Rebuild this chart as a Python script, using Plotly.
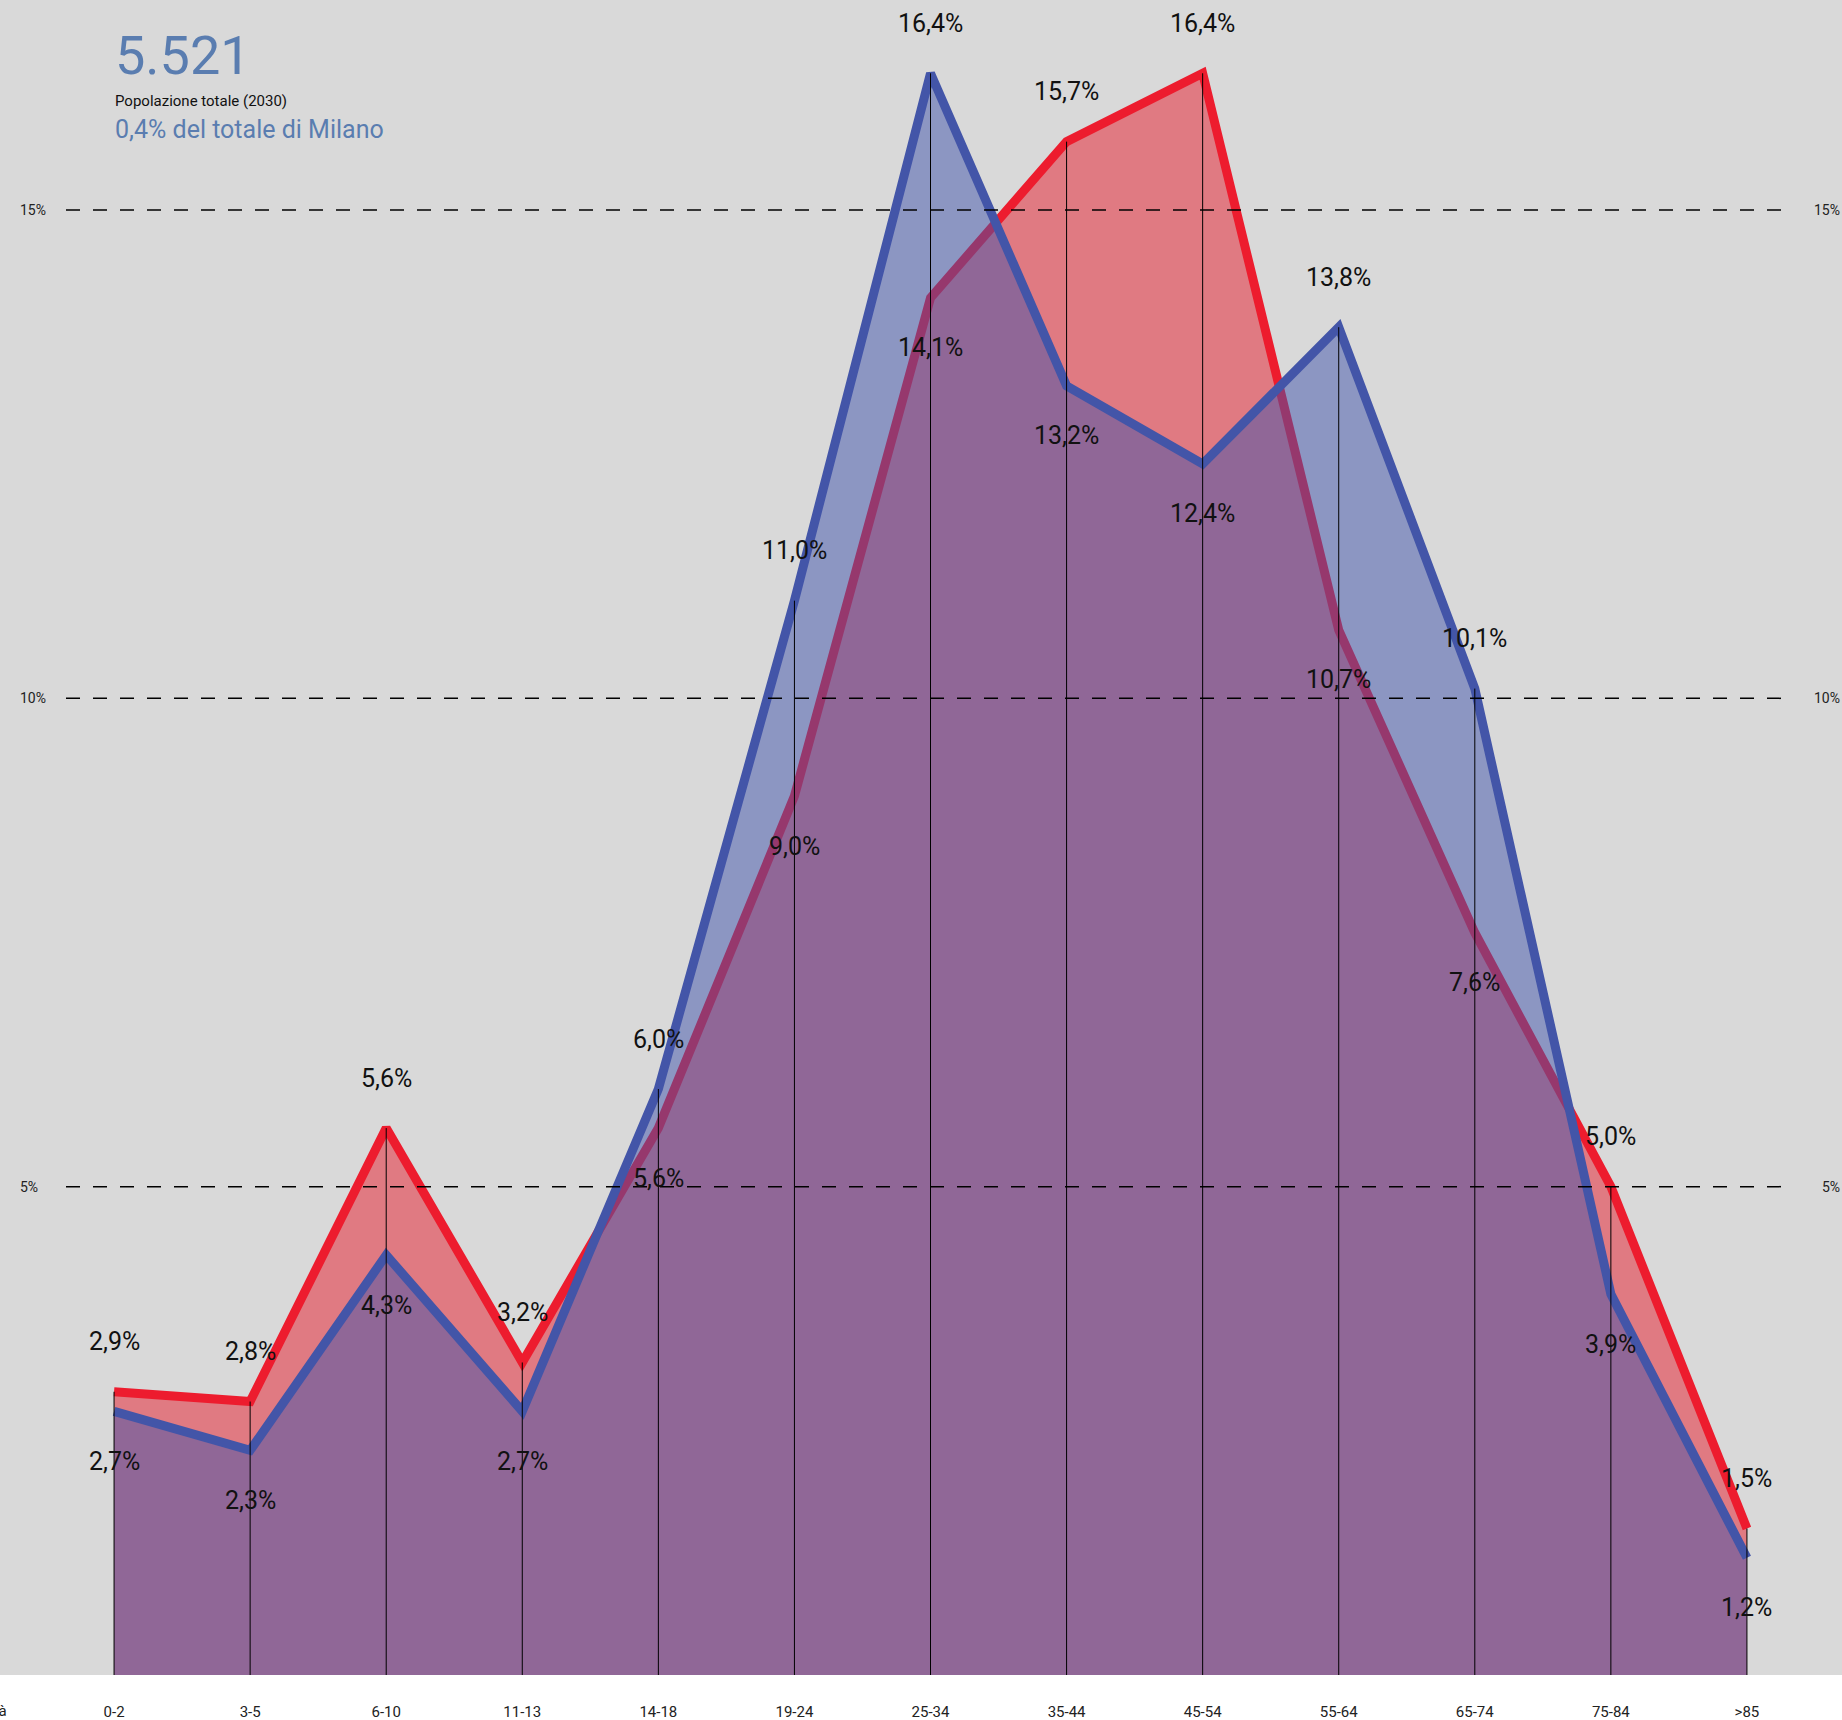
import plotly.graph_objects as go

categories = ["0-2", "3-5", "6-10", "11-13", "14-18", "19-24", "25-34",
              "35-44", "45-54", "55-64", "65-74", "75-84", ">85"]
red_values = [2.9, 2.8, 5.6, 3.2, 5.6, 9.0, 14.1, 15.7, 16.4, 10.7, 7.6, 5.0, 1.5]
blue_values = [2.7, 2.3, 4.3, 2.7, 6.0, 11.0, 16.4, 13.2, 12.4, 13.8, 10.1, 3.9, 1.2]
grid_values = [5, 10, 15]
grid_labels = ["5%", "10%", "15%"]

W, H = 1842, 1720
PLOT_H = 1675
FONT = "Roboto"

x = list(range(len(categories)))

fig = go.Figure()

fig.add_trace(go.Scatter(
    x=x, y=red_values, mode="lines", fill="tozeroy",
    fillcolor="rgba(231,27,43,0.5)",
    line=dict(color="#ED1C2E", width=9), hoverinfo="skip", showlegend=False))
fig.add_trace(go.Scatter(
    x=x, y=blue_values, mode="lines", fill="tozeroy",
    fillcolor="rgba(63,83,171,0.5)",
    line=dict(color="#4355A8", width=9), hoverinfo="skip", showlegend=False))

# vertical guide lines from 0 to max of the two series
vx, vy = [], []
for i, (r, b) in enumerate(zip(red_values, blue_values)):
    vx += [i, i, None]
    vy += [0, max(r, b), None]
fig.add_trace(go.Scatter(x=vx, y=vy, mode="lines",
                         line=dict(color="black", width=1),
                         hoverinfo="skip", showlegend=False))

def fmt(v):
    return f"{v:.1f}".replace(".", ",") + "%"

annotations = []
for i, (r, b) in enumerate(zip(red_values, blue_values)):
    hi_r = r >= b
    for v, up in ((r, hi_r), (b, not hi_r)):
        annotations.append(dict(
            x=i, y=v, xref="x", yref="y", text=fmt(v), showarrow=False,
            yshift=50 if up else -50, xanchor="center", yanchor="middle",
            font=dict(family=FONT, size=25, color="#111")))

shapes = []
for g, lab in zip(grid_values, grid_labels):
    shapes.append(dict(type="line", xref="paper", yref="y",
                       x0=66 / W, x1=1788 / W, y0=g, y1=g, layer="above",
                       line=dict(color="black", width=1.5, dash="14px,13px")))
    annotations.append(dict(x=0, y=g, xref="paper", yref="y", text=lab,
                            showarrow=False, xanchor="left", yanchor="middle",
                            xshift=18, font=dict(family=FONT, size=14, color="#222")))
    annotations.append(dict(x=1, y=g, xref="paper", yref="y", text=lab,
                            showarrow=False, xanchor="right", yanchor="middle",
                            xshift=0, font=dict(family=FONT, size=14, color="#222")))

def py(p):
    return 1 - p / PLOT_H

annotations += [
    dict(x=113 / W, y=py(56), xref="paper", yref="paper", text="5.521",
         showarrow=False, xanchor="left", yanchor="middle",
         font=dict(family=FONT, size=54, color="#5A7DB0")),
    dict(x=113 / W, y=py(101), xref="paper", yref="paper",
         text="Popolazione totale (2030)", showarrow=False,
         xanchor="left", yanchor="middle",
         font=dict(family=FONT, size=15, color="#111")),
    dict(x=113 / W, y=py(129), xref="paper", yref="paper",
         text="0,4% del totale di Milano", showarrow=False,
         xanchor="left", yanchor="middle",
         font=dict(family=FONT, size=25, color="#5A7DB0")),
    dict(x=0, y=0, xref="paper", yref="paper", text="Età", showarrow=False,
         xanchor="right", yanchor="middle", xshift=9, yshift=-36,
         font=dict(family=FONT, size=15, color="#222")),
]

x0 = -114 / 136
x1 = 12 + (W - 1747) / 136
y1 = PLOT_H / ((PLOT_H - 210) / 15)

fig.update_layout(
    width=W, height=H,
    margin=dict(l=0, r=0, t=0, b=H - PLOT_H),
    paper_bgcolor="white", plot_bgcolor="#D9D9D9",
    xaxis=dict(range=[x0, x1], tickvals=x, ticktext=categories,
               showgrid=False, zeroline=False, showline=False,
               ticks="", ticklabelstandoff=26,
               tickfont=dict(family=FONT, size=15, color="#222")),
    yaxis=dict(range=[0, y1], showgrid=False, zeroline=False,
               showticklabels=False, showline=False),
    shapes=shapes, annotations=annotations,
)

fig.write_html("out.html", config={"displayModeBar": False},
               post_script="document.body.style.margin='0px';document.body.style.overflow='hidden';")
